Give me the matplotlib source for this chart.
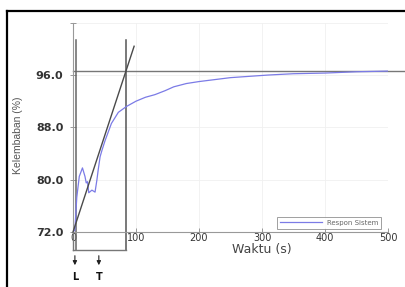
import numpy as np
import matplotlib
matplotlib.use("Agg")
import matplotlib.pyplot as plt
from matplotlib.lines import Line2D

# step response
waktu = [0, 3, 6, 10, 15, 19, 21, 23, 25, 30, 35, 38, 40, 43, 46, 51, 61, 72, 85,
         100, 115, 130, 146, 160, 180, 200, 225, 250, 280, 310, 350, 400, 450, 500]
respon = [72.0, 72.3, 77.3, 80.5, 81.8, 80.5, 79.5, 79.7, 78.0, 78.4, 78.1, 80.0, 81.5,
          83.5, 84.5, 86.0, 88.6, 90.3, 91.2, 92.0, 92.6, 93.0, 93.6, 94.2, 94.7, 95.0,
          95.3, 95.6, 95.8, 96.0, 96.2, 96.3, 96.5, 96.6]

# tangent line and markers
tangent_t = [0, 97]
tangent_v = [72.0, 100.4]
steady = 96.6
L_t = 4
T_t = 84
T_arrow_t = 41
box_top = 101.3
box_bot = 69.25

xticks = [0, 100, 200, 300, 400, 500]
yticks = [72.0, 80.0, 88.0, 96.0]

W, H = 405, 287
fig = plt.figure(figsize=(W / 100, H / 100), dpi=100)
ax = fig.add_axes([73 / W, 1 - 232 / H, (388 - 73) / W, (232 - 22.7) / H])

blue = "#7b7be6"
dark = "#4a4a4a"

ax.plot(waktu, respon, color=blue, lw=0.9, label="Respon Sistem", zorder=3)
ax.plot(tangent_t, tangent_v, color=dark, lw=1.0, clip_on=False, zorder=4)
ax.plot([0, 528], [steady, steady], color="#777777", lw=1.0, clip_on=False, zorder=2)

# L / T box
ax.plot([L_t, L_t], [box_bot, box_top], color="#666666", lw=1.1, clip_on=False)
ax.plot([T_t, T_t], [box_bot, box_top], color="#555555", lw=1.1, clip_on=False)
ax.plot([0, 0], [box_bot, 72], color="#777777", lw=1.0, clip_on=False)
ax.plot([0, T_t], [box_bot, box_bot], color="#777777", lw=1.0, clip_on=False)

ax.set_xlim(0, 500)
ax.set_ylim(72, 104)
ax.set_xticks(xticks)
ax.set_xticklabels([str(x) for x in xticks], fontsize=7, color="#333333")
ax.set_yticks(yticks + [104])
ax.set_yticklabels(["%.1f" % y for y in yticks] + [""], fontsize=8,
                   fontweight="bold", color="#333333")
ax.tick_params(axis="y", direction="inout", length=4, width=0.6, colors="#888888",
               labelcolor="#333333", pad=5)
ax.tick_params(axis="x", direction="in", length=3, width=0.6, colors="#888888",
               labelcolor="#333333", pad=1)
ax.grid(True, color="#f0f0f0", lw=0.6)
for s in ["top", "right"]:
    ax.spines[s].set_visible(False)
for s in ["left", "bottom"]:
    ax.spines[s].set_color("#999999")
    ax.spines[s].set_linewidth(0.8)

leg = ax.legend(loc="lower right", bbox_to_anchor=(0.99, 0.0), fontsize=5,
                frameon=True, fancybox=False, handlelength=6, borderpad=0.4,
                labelcolor="#666666")
leg.get_frame().set_edgecolor("#888888")
leg.get_frame().set_linewidth(0.7)

# axis labels
fig.text(262 / W, 1 - 250 / H, "Waktu (s)", ha="center", va="center",
         fontsize=9, color="#444444")
fig.text(18 / W, 1 - 135 / H, "Kelembaban (%)", ha="center", va="center",
         rotation=90, fontsize=7.5, color="#555555",
         family=["Liberation Sans Narrow", "Liberation Sans", "DejaVu Sans"])

# arrows for L and T
for tx, lab in [(L_t - 1, "L"), (T_arrow_t, "T")]:
    ax.annotate("", xy=(tx, 66.5), xytext=(tx, 68.8),
                arrowprops=dict(arrowstyle="-|>", color="#222222", lw=0.8,
                                mutation_scale=6), annotation_clip=False)
    ax.text(tx, 65.1, lab, ha="center", va="center", fontsize=7,
            fontweight="bold", color="#111111", clip_on=False)

# black frame on top and left
fig.add_artist(Line2D([6.5 / W, 6.5 / W], [0, 1 - 11 / H], color="black", lw=1.6,
                      transform=fig.transFigure))
fig.add_artist(Line2D([6.5 / W, 1], [1 - 11 / H, 1 - 11 / H], color="black", lw=1.6,
                      transform=fig.transFigure))

fig.savefig("out.png", dpi=100)
